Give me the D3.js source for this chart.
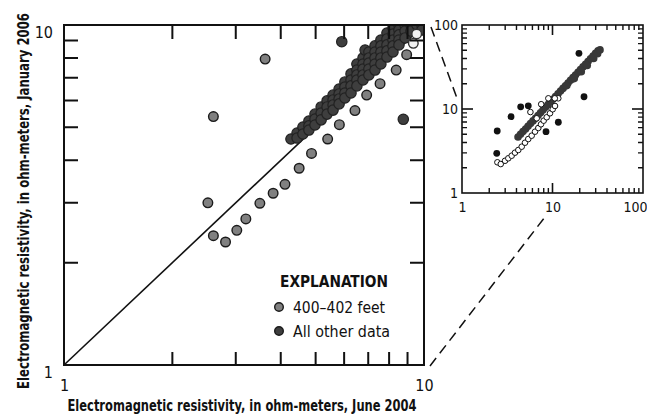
<!DOCTYPE html>
<html>
<head>
<meta charset="utf-8">
<script src="https://cdn.jsdelivr.net/npm/d3@7"></script>
<style>
    body { margin: 0; background: #fff; }
    svg { display: block; }
    text { font-family: "Liberation Sans Narrow", "Arial Narrow", "DejaVu Sans Condensed", "Liberation Sans", sans-serif; font-stretch: condensed; fill: #111; }
    .axis path { display: none; }
    .lbl text { font-size: 16px; }
    .ilbl text { font-size: 14px; }
</style>
</head>
<body>
<div class="canvas"></div>
<script>
// main plot: 400-402 feet
var grayPts = [[2.51, 3.00], [2.60, 2.40], [2.81, 2.30], [3.02, 2.49], [3.20, 2.69], [3.50, 2.99],
    [3.81, 3.20], [4.11, 3.40], [4.50, 3.79], [4.87, 4.19], [5.40, 4.62], [5.82, 5.09],
    [6.43, 5.60], [6.93, 6.22], [7.55, 6.72], [8.37, 7.37], [8.95, 8.18],
    [2.60, 5.38], [3.62, 7.94]];
// two pale points at the top corner
var palePts = [[9.34, 8.83], [9.54, 9.41]];
// main plot: all other data
var otherPts = [[4.27, 4.62],
    [4.44, 4.81], [4.44, 4.65],
    [4.61, 5.01], [4.61, 4.78],
    [4.79, 5.22], [4.79, 5.05], [4.79, 4.91],
    [4.98, 5.47], [4.98, 5.29], [4.98, 5.08],
    [5.18, 5.74], [5.18, 5.51], [5.18, 5.26],
    [5.38, 5.98], [5.38, 5.74], [5.38, 5.47],
    [5.59, 6.22], [5.59, 6.02], [5.59, 5.82], [5.59, 5.62],
    [5.81, 6.48], [5.81, 6.27], [5.81, 6.06], [5.81, 5.86],
    [6.03, 6.80], [6.03, 6.57], [6.03, 6.31], [6.03, 6.10],
    [6.27, 7.18], [6.27, 6.89], [6.27, 6.62], [6.27, 6.31],
    [6.51, 7.68], [6.51, 7.37], [6.51, 7.13], [6.51, 6.89], [6.51, 6.62],
    [6.77, 8.00], [6.77, 7.68], [6.77, 7.42], [6.77, 7.13], [6.77, 6.89],
    [6.86, 8.44],
    [7.03, 8.33], [7.03, 8.00], [7.03, 7.73], [7.03, 7.42], [7.03, 7.13],
    [7.31, 8.68], [7.31, 8.33], [7.31, 8.00], [7.31, 7.68], [7.31, 7.37],
    [7.59, 9.03], [7.59, 8.68], [7.59, 8.33], [7.59, 8.00], [7.59, 7.68],
    [7.89, 9.47], [7.89, 9.10], [7.89, 8.74], [7.89, 8.39], [7.89, 8.05],
    [8.20, 9.80], [8.20, 9.41], [8.20, 9.03], [8.20, 8.68], [8.20, 8.33],
    [8.52, 10.0], [8.52, 9.67], [8.52, 9.35], [8.52, 9.03], [8.52, 8.74],
    [8.86, 10.0], [8.86, 9.60], [8.86, 9.16],
    [9.20, 10.0], [9.20, 9.60],
    [9.56, 10.0],
    [9.87, 10.0], [9.87, 9.67],
    [5.91, 8.93], [8.76, 5.28]];

// inset (1-100)
var insetBand = [[4.16, 4.64], [4.43, 5.00], [4.72, 5.38], [5.04, 5.78], [5.36, 6.22], [5.71, 6.70],
    [6.09, 7.22], [6.49, 7.77], [6.92, 8.37], [7.37, 9.01], [7.85, 9.70], [8.37, 10.46],
    [8.92, 11.28], [9.51, 12.15], [10.13, 13.08], [10.79, 14.09], [11.50, 15.17], [12.26, 16.33],
    [13.06, 17.59], [13.92, 18.94], [14.84, 20.39], [15.81, 21.96], [16.85, 23.65], [17.95, 25.43],
    [19.13, 27.35], [20.39, 29.45], [21.73, 31.71], [23.16, 34.15], [24.68, 36.77], [26.30, 39.59],
    [28.03, 42.64], [29.87, 45.91], [31.83, 49.43],
    [14.4, 19.0], [17.4, 23.0], [20.8, 27.8], [24.2, 33.0], [28.5, 40.0], [31.5, 45.5], [33.5, 50.5]];
var insetOpen = [[2.46, 2.32], [2.68, 2.21], [2.99, 2.42], [3.25, 2.59], [3.54, 2.78], [3.85, 3.02],
    [4.19, 3.25], [4.57, 3.56], [4.97, 3.97], [5.40, 4.39], [5.89, 4.81], [6.41, 5.37],
    [6.97, 5.94], [7.46, 6.58], [7.99, 7.26], [8.63, 7.97], [9.38, 8.89], [10.05, 9.92],
    [10.66, 10.86], [11.59, 13.41], [5.7, 9.2], [7.5, 11.4], [9.0, 13.4], [10.6, 13.4], [6.69, 7.75]];
var insetOther = [[19.6, 46.0], [22.3, 14.0], [4.45, 10.6], [5.40, 10.9], [3.48, 8.10],
    [2.45, 5.47], [2.42, 2.97], [8.48, 5.37], [11.6, 6.95]];

var mainTicks = [2, 3, 4, 5, 6, 7, 8, 9];
var mainLabels = [1, 10];
var insetMinor = [2, 3, 4, 5, 6, 7, 8, 9, 20, 30, 40, 50, 60, 70, 80, 90];
var insetMajor = [10];
var insetLabels = [1, 10, 100];
var legendLabels = ["400\u2013402 feet", "All other data"];

var xTitle = "Electromagnetic resistivity, in ohm-meters, June 2004";
var yTitle = "Electromagnetic resistivity, in ohm-meters, January 2006";

var svg = d3.select(".canvas").append("svg")
    .attr("width", 647)
    .attr("height", 417);

var x = d3.scaleLog().domain([1, 10]).range([64, 424]);
var y = d3.scaleLog().domain([1, 10]).range([365, 25]);
var xi = d3.scaleLog().domain([1, 100]).range([462, 643]);
var yi = d3.scaleLog().domain([1, 100]).range([193, 25]);

var colour = d3.scaleOrdinal().domain(legendLabels).range(["#808080", "#3e3e3e"]);

// inward tick marks on one side of a frame, drawn as one path
function sideTicks(g, values, scale, side, pos, len, w) {
    var horiz = side === "top" || side === "bottom";
    var dir = (side === "bottom" || side === "right") ? -1 : 1;
    var d = values.map(function (v) {
        var p = scale(v);
        return horiz ? "M" + p + "," + pos + "V" + (pos + dir * len)
                     : "M" + pos + "," + p + "H" + (pos + dir * len);
    }).join("");
    g.append("path")
        .attr("class", "tickmarks")
        .attr("d", d)
        .attr("fill", "none")
        .attr("stroke", "#111")
        .attr("stroke-width", w);
}

svg.append("clipPath").attr("id", "mainclip")
    .append("rect")
    .attr("x", 64).attr("y", 25).attr("width", 360).attr("height", 340);

// connector dashes
svg.append("line")
    .attr("x1", x(10) + 7).attr("y1", y(10) + 2)
    .attr("x2", xi(1) - 4).attr("y2", yi(10) - 8)
    .attr("stroke", "#111").attr("stroke-width", 1.5).attr("stroke-dasharray", "10,6");
svg.append("line")
    .attr("x1", x(10) + 6).attr("y1", y(1) + 1)
    .attr("x2", xi(10) - 6).attr("y2", yi(1) + 22)
    .attr("stroke", "#111").attr("stroke-width", 1.5).attr("stroke-dasharray", "10,6");

// ---- main plot
var main = svg.append("g");

main.append("path")
    .datum([1, 10])
    .attr("fill", "none")
    .attr("stroke", "#111")
    .attr("stroke-width", 1.6)
    .attr("d", d3.line().x(function (d) { return x(d); }).y(function (d) { return y(d); }));

var pts = main.append("g").attr("clip-path", "url(#mainclip)");

pts.selectAll(".gray").data(grayPts).enter().append("circle")
    .attr("cx", function (d) { return x(d[0]); })
    .attr("cy", function (d) { return y(d[1]); })
    .attr("r", 4.8)
    .attr("fill", colour(legendLabels[0]))
    .attr("stroke", "#1a1a1a").attr("stroke-width", 1.4);

pts.selectAll(".other").data(otherPts).enter().append("circle")
    .attr("cx", function (d) { return x(d[0]); })
    .attr("cy", function (d) { return y(d[1]); })
    .attr("r", 5.2)
    .attr("fill", colour(legendLabels[1]))
    .attr("stroke", "#222").attr("stroke-width", 1.2);

pts.selectAll(".pale").data(palePts).enter().append("circle")
    .attr("cx", function (d) { return x(d[0]); })
    .attr("cy", function (d) { return y(d[1]); })
    .attr("r", 4.8)
    .attr("fill", "#f2f2f2")
    .attr("stroke", "#333").attr("stroke-width", 1.4);

main.append("rect")
    .attr("x", 64).attr("y", 25).attr("width", 360).attr("height", 340)
    .attr("fill", "none").attr("stroke", "#111").attr("stroke-width", 2);

main.append("g").attr("class", "axis lbl").attr("transform", "translate(0,365)")
    .call(d3.axisBottom(x).tickValues(mainLabels).tickSize(0).tickPadding(15).tickFormat(d3.format("d")))
    .attr("font-family", null).attr("font-size", null);
main.append("g").attr("class", "axis lbl").attr("transform", "translate(64,0)")
    .call(d3.axisLeft(y).tickValues(mainLabels).tickSize(0).tickPadding(11).tickFormat(d3.format("d")))
    .attr("font-family", null).attr("font-size", null)
    .selectAll("text").attr("dy", "0.76em");

svg.append("text")
    .attr("x", 242).attr("y", 411)
    .attr("text-anchor", "middle")
    .attr("font-weight", "bold").attr("font-size", "15px")
    .attr("textLength", 349).attr("lengthAdjust", "spacingAndGlyphs")
    .text(xTitle);

// y title: squeeze along its own direction to fit the plot height
var yt = svg.append("text")
    .attr("text-anchor", "middle")
    .attr("font-weight", "bold").attr("font-size", "15px")
    .text(yTitle);
var sx = Math.min(1, 376 / yt.node().getComputedTextLength());
yt.attr("transform", "translate(29,201) rotate(-90) scale(" + sx + ",1)");

// legend
var legend = svg.append("g").attr("transform", "translate(279,0)");
legend.append("text")
    .attr("x", 1).attr("y", 287)
    .attr("font-weight", "bold").attr("font-size", "16.5px")
    .attr("textLength", 108).attr("lengthAdjust", "spacingAndGlyphs")
    .text("EXPLANATION");
var item = legend.selectAll(".item").data(legendLabels).enter().append("g")
    .attr("transform", function (d, i) { return "translate(0," + (307 + i * 24) + ")"; });
item.append("circle")
    .attr("r", 4.3)
    .attr("fill", function (d) { return colour(d); })
    .attr("stroke", "#1a1a1a").attr("stroke-width", 1.4);
item.append("text")
    .attr("x", 14).attr("y", 5.5)
    .attr("font-size", "16.5px")
    .attr("textLength", function (d, i) { return i === 0 ? 92 : 97; })
    .attr("lengthAdjust", "spacingAndGlyphs")
    .text(function (d) { return d; });

// ---- inset
var inset = svg.append("g");

inset.selectAll(".band").data(insetBand).enter().append("circle")
    .attr("cx", function (d) { return xi(d[0]); })
    .attr("cy", function (d) { return yi(d[1]); })
    .attr("r", 3.8)
    .attr("fill", "#383838");

inset.selectAll(".open").data(insetOpen).enter().append("circle")
    .attr("cx", function (d) { return xi(d[0]); })
    .attr("cy", function (d) { return yi(d[1]); })
    .attr("r", 2.8)
    .attr("fill", "#fff")
    .attr("stroke", "#111").attr("stroke-width", 1);

inset.selectAll(".dot").data(insetOther).enter().append("circle")
    .attr("cx", function (d) { return xi(d[0]); })
    .attr("cy", function (d) { return yi(d[1]); })
    .attr("r", 3.4)
    .attr("fill", "#111");

inset.append("rect")
    .attr("x", 462).attr("y", 25).attr("width", 181).attr("height", 168)
    .attr("fill", "none").attr("stroke", "#111").attr("stroke-width", 1.6);

inset.append("g").attr("class", "axis ilbl").attr("transform", "translate(0,193)")
    .call(d3.axisBottom(xi).tickValues(insetLabels).tickSize(0).tickPadding(9).tickFormat(d3.format("d")))
    .attr("font-family", null).attr("font-size", null)
    .selectAll("text")
    .attr("text-anchor", function (d) { return d === 100 ? "end" : "middle"; })
    .attr("x", function (d) { return d === 100 ? 4 : 0; });
inset.append("g").attr("class", "axis ilbl").attr("transform", "translate(462,0)")
    .call(d3.axisLeft(yi).tickValues(insetLabels).tickSize(0).tickPadding(4).tickFormat(d3.format("d")))
    .attr("font-family", null).attr("font-size", null);

// tick marks last, on top of everything
var ticks = svg.append("g");
sideTicks(ticks, mainTicks, x, "bottom", 365, 13, 2);
sideTicks(ticks, mainTicks, x, "top", 25, 14, 2);
sideTicks(ticks, mainTicks, y, "left", 64, 14, 2);
sideTicks(ticks, mainTicks, y, "right", 424, 14, 2);
sideTicks(ticks, insetMinor, xi, "bottom", 193, 5, 1.4);
sideTicks(ticks, insetMinor, xi, "top", 25, 5, 1.4);
sideTicks(ticks, insetMinor, yi, "left", 462, 5, 1.4);
sideTicks(ticks, insetMinor, yi, "right", 643, 5, 1.4);
sideTicks(ticks, insetMajor, xi, "bottom", 193, 10, 1.6);
sideTicks(ticks, insetMajor, xi, "top", 25, 10, 1.6);
sideTicks(ticks, insetMajor, yi, "left", 462, 11, 1.6);
sideTicks(ticks, insetMajor, yi, "right", 643, 11, 1.6);
</script>
</body>
</html>
